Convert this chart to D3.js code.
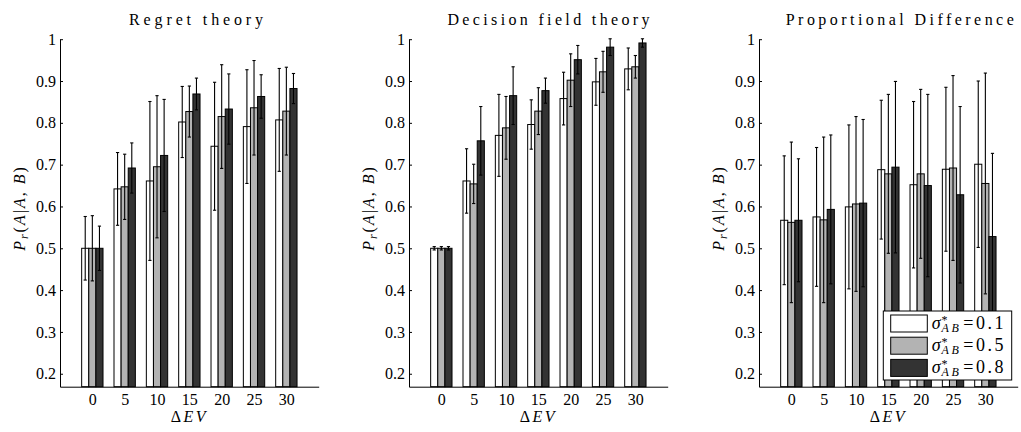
<!DOCTYPE html>
<html>
<head>
<meta charset="utf-8">
<script src="https://cdn.jsdelivr.net/npm/d3@7"></script>
<style>
  body { margin: 0; background: #fff; }
</style>
</head>
<body>
<div id="chart"></div>
<script>
// categories and tick labels
var groups = ["0", "5", "10", "15", "20", "25", "30"];
var sigmas = ["0.1", "0.5", "0.8"];
var titles = ["Regret theory", "Decision field theory", "Proportional Difference"];
var yTicks = [0.2, 0.3, 0.4, 0.5, 0.6, 0.7, 0.8, 0.9, 1];
var yTickLabels = ["0.2", "0.3", "0.4", "0.5", "0.6", "0.7", "0.8", "0.9", "1"];

// Regret theory: one row per group, one column per sigma
var regretMean = [
  [0.500, 0.500, 0.500],
  [0.642, 0.647, 0.692],
  [0.661, 0.695, 0.722],
  [0.802, 0.827, 0.869],
  [0.744, 0.815, 0.833],
  [0.791, 0.836, 0.863],
  [0.807, 0.828, 0.882]
];
var regretErr = [
  [0.076, 0.078, 0.053],
  [0.087, 0.078, 0.060],
  [0.190, 0.170, 0.134],
  [0.085, 0.061, 0.038],
  [0.153, 0.124, 0.084],
  [0.136, 0.113, 0.052],
  [0.123, 0.105, 0.036]
];

// Decision field theory
var dftMean = [
  [0.500, 0.500, 0.500],
  [0.661, 0.654, 0.757],
  [0.770, 0.788, 0.865],
  [0.796, 0.828, 0.877],
  [0.858, 0.902, 0.951],
  [0.898, 0.922, 0.981],
  [0.929, 0.934, 0.991]
];
var dftErr = [
  [0.004, 0.004, 0.004],
  [0.077, 0.047, 0.082],
  [0.098, 0.075, 0.069],
  [0.059, 0.056, 0.030],
  [0.063, 0.063, 0.034],
  [0.056, 0.049, 0.020],
  [0.050, 0.027, 0.010]
];

// Proportional Difference
var pdMean = [
  [0.567, 0.562, 0.567],
  [0.575, 0.568, 0.593],
  [0.599, 0.606, 0.608],
  [0.688, 0.678, 0.694],
  [0.652, 0.678, 0.650],
  [0.689, 0.692, 0.628],
  [0.701, 0.655, 0.528]
];
var pdErr = [
  [0.154, 0.192, 0.147],
  [0.166, 0.198, 0.178],
  [0.196, 0.209, 0.200],
  [0.166, 0.190, 0.205],
  [0.199, 0.202, 0.218],
  [0.196, 0.221, 0.211],
  [0.199, 0.264, 0.199]
];

var colors = ["#ffffff", "#b3b3b3", "#333333"];
var serif = "'Liberation Serif', 'Times New Roman', 'DejaVu Serif', serif";

// set the dimensions of each panel
var plotTop = 39.2, plotBottom = 386.7, panelW = 258.7;
var panelX = [60, 409, 759];
var barW = 0.22;

var svg = d3.select("#chart")
  .append("svg")
    .attr("width", 1021)
    .attr("height", 432)
    .attr("font-family", serif)
    .style("font-family", serif);

function drawPanel(p, means, errs, title, legend) {
  var g = svg.append("g")
    .attr("transform", "translate(" + panelX[p] + ",0)");

  var x = d3.scaleLinear().domain([0, 8]).range([0, panelW]);
  var y = d3.scaleLinear().domain([0.169, 1]).range([plotBottom, plotTop]);

  var items = [];
  means.forEach(function(row, gi) {
    row.forEach(function(v, k) {
      items.push({g: gi, k: k, v: v, e: errs[gi][k]});
    });
  });
  function cx(d) { return x(d.g + 1 + (d.k - 1) * barW); }

  // Add bars
  g.append("g").selectAll("rect")
    .data(items)
    .enter()
    .append("rect")
      .attr("x", function(d) { return cx(d) - (x(barW) - x(0)) / 2; })
      .attr("width", x(barW) - x(0))
      .attr("y", function(d) { return y(d.v); })
      .attr("height", function(d) { return plotBottom - y(d.v); })
      .style("fill", function(d) { return colors[d.k]; })
      .style("stroke", "#000")
      .style("stroke-width", 1);

  // Add error bars
  var eb = g.append("g").selectAll("g")
    .data(items)
    .enter()
    .append("g")
      .style("stroke", "#000")
      .style("stroke-width", 1.1);
  eb.append("line")
    .attr("x1", cx).attr("x2", cx)
    .attr("y1", function(d) { return y(d.v - d.e); })
    .attr("y2", function(d) { return y(d.v + d.e); });
  eb.append("line")
    .attr("x1", function(d) { return cx(d) - 1.6; })
    .attr("x2", function(d) { return cx(d) + 1.6; })
    .attr("y1", function(d) { return y(d.v + d.e); })
    .attr("y2", function(d) { return y(d.v + d.e); });
  eb.append("line")
    .attr("x1", function(d) { return cx(d) - 1.6; })
    .attr("x2", function(d) { return cx(d) + 1.6; })
    .attr("y1", function(d) { return y(d.v - d.e); })
    .attr("y2", function(d) { return y(d.v - d.e); });

  // Add Y axis
  var ya = g.append("g")
    .call(d3.axisLeft(y)
      .tickValues(yTicks)
      .tickFormat(function(d, i) { return yTickLabels[i]; })
      .tickSizeInner(-3)
      .tickSizeOuter(0)
      .tickPadding(4));
  ya.attr("font-family", serif).attr("font-size", 16);
  ya.selectAll("line, path").style("stroke", "#000");

  // Add X axis
  var xa = g.append("g")
    .attr("transform", "translate(0," + plotBottom + ")")
    .call(d3.axisBottom(x)
      .tickValues(d3.range(1, groups.length + 1))
      .tickFormat(function(d, i) { return groups[i]; })
      .tickSize(0)
      .tickPadding(7));
  xa.attr("font-family", serif).attr("font-size", 16);
  xa.selectAll("path").style("stroke", "#000");

  // title
  var tw = [134, 202, 228][p];
  g.append("text")
    .attr("x", panelW / 2 + tw * 0.05)
    .attr("y", 25)
    .attr("text-anchor", "middle")
    .attr("textLength", tw)
    .attr("lengthAdjust", "spacing")
    .style("font-size", "16px")
    .text(title);

  // name axis
  var xl = g.append("text")
    .attr("x", panelW / 2)
    .attr("y", 422)
    .attr("text-anchor", "middle")
    .style("font-size", "16px")
    .style("letter-spacing", "2.5px");
  xl.append("tspan").text("\u0394");
  xl.append("tspan").style("font-style", "italic").text("EV");

  var yl = g.append("text")
    .attr("transform", "translate(-35,208) rotate(-90)")
    .attr("text-anchor", "middle")
    .style("font-size", "16px")
    .style("letter-spacing", "2px");
  yl.append("tspan").style("font-style", "italic").text("P");
  yl.append("tspan").style("font-style", "italic").style("font-size", "12px").attr("dy", 3).text("r");
  yl.append("tspan").attr("dy", -3).text("(");
  yl.append("tspan").style("font-style", "italic").text("A");
  yl.append("tspan").text("|");
  yl.append("tspan").style("font-style", "italic").text("A");
  yl.append("tspan").text(", ");
  yl.append("tspan").style("font-style", "italic").text("B");
  yl.append("tspan").text(")");

  if (legend) {
    // Add legend
    var lg = g.append("g").attr("transform", "translate(124.3,311)");
    lg.append("rect")
      .attr("width", 128.4).attr("height", 69)
      .style("fill", "#fff").style("stroke", "#000").style("stroke-width", 1);
    sigmas.forEach(function(s, k) {
      var ry = 4 + k * 22.2;
      lg.append("rect")
        .attr("x", 7.4).attr("y", ry)
        .attr("width", 36.6).attr("height", 17)
        .style("fill", colors[k]).style("stroke", "#000").style("stroke-width", 1);
      var lt = lg.append("text").attr("x", 48.4).attr("y", ry + 13.5)
        .style("font-size", "18px");
      lt.append("tspan").style("font-style", "italic").text("\u03c3");
      lt.append("tspan").style("font-size", "12px").attr("dx", 1).attr("dy", -5).text("*");
      lt.append("tspan").style("font-size", "12px").style("font-style", "italic")
        .style("letter-spacing", "2.5px").attr("dx", -6).attr("dy", 8.5).text("AB");
      lt.append("tspan").attr("dx", 2).attr("dy", -3.5)
        .style("letter-spacing", "2.5px").text("=" + s);
    });
  }
}

drawPanel(0, regretMean, regretErr, titles[0], false);
drawPanel(1, dftMean, dftErr, titles[1], false);
drawPanel(2, pdMean, pdErr, titles[2], true);
</script>
</body>
</html>
